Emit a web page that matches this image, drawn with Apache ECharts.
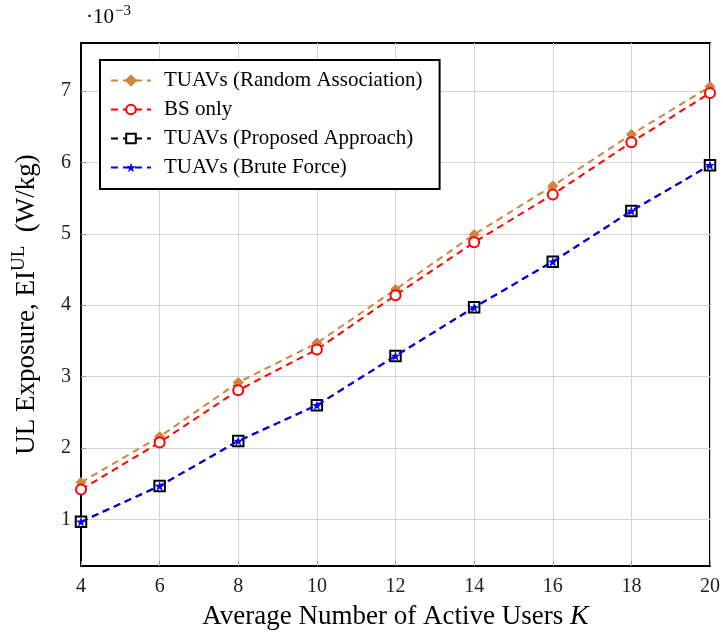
<!DOCTYPE html>
<html>
<head>
<meta charset="utf-8">
<script src="https://cdn.jsdelivr.net/npm/echarts@6/dist/echarts.min.js"></script>
<style>
  html, body { margin: 0; padding: 0; background: #fff; }
  #chart { width: 723px; height: 636px; }
</style>
</head>
<body>
<div id="chart"></div>
<script>
// Average number of active users K
const users = [4, 6, 8, 10, 12, 14, 16, 18, 20];
// UL exposure values, in units of 1e-3 W/kg
const randomAssoc = [1.52, 2.16, 2.92, 3.47, 4.22, 4.99, 5.67, 6.39, 7.06];
const bsOnly      = [1.42, 2.08, 2.81, 3.38, 4.14, 4.88, 5.55, 6.28, 6.97];
const proposed    = [0.97, 1.47, 2.10, 2.60, 3.29, 3.97, 4.61, 5.32, 5.96];
const bruteForce  = [0.97, 1.47, 2.10, 2.60, 3.29, 3.97, 4.61, 5.32, 5.96];
const yTicks = [1, 2, 3, 4, 5, 6, 7];

const serif = '"Liberation Serif", "DejaVu Serif", serif';
const pair = ys => users.map((x, i) => [x, ys[i]]);
const starPath = 'path://M50,0 L61.8,34.5 L97.6,34.5 L68.8,55.9 L79.4,90.5 L50,69 L20.6,90.5 L31.2,55.9 L2.4,34.5 L38.2,34.5 Z';

const chart = echarts.init(document.getElementById('chart'), null, { renderer: 'canvas' });

chart.setOption({
  animation: false,
  backgroundColor: '#fff',
  grid: {
    left: 81, right: 12, top: 43, bottom: 67,
    show: true, borderColor: '#000', borderWidth: 2
  },
  xAxis: {
    type: 'value', min: 4, max: 20, interval: 2,
    name: '{n|Average Number of Active Users }{k|K}',
    nameLocation: 'middle', nameGap: 37,
    nameTextStyle: {
      rich: {
        n: { fontFamily: serif, fontSize: 27, color: '#000' },
        k: { fontFamily: serif, fontSize: 28, fontStyle: 'italic', color: '#000' }
      }
    },
    axisLine: { lineStyle: { color: '#000', width: 2 } },
    axisTick: { show: true, inside: true, length: 5, lineStyle: { color: '#999' } },
    axisLabel: { fontFamily: serif, fontSize: 20, color: '#222', margin: 11 },
    splitLine: { show: true, lineStyle: { color: '#d4d4d4', width: 1 } }
  },
  yAxis: {
    type: 'value', min: 0.35, max: 7.67,
    name: '{n|UL Exposure, EI}{s|UL}{n|  (W/kg)}',
    nameLocation: 'middle', nameGap: 38, nameRotate: 90,
    nameTextStyle: {
      rich: {
        n: { fontFamily: serif, fontSize: 27, color: '#000' },
        s: { fontFamily: serif, fontSize: 19, color: '#000', verticalAlign: 'bottom', padding: [0, 0, 14, 0] }
      }
    },
    axisLine: { lineStyle: { color: '#000', width: 2 } },
    axisTick: { show: true, inside: true, length: 5, customValues: yTicks, lineStyle: { color: '#999' } },
    axisLabel: { fontFamily: serif, fontSize: 20, color: '#222', margin: 10, customValues: yTicks },
    splitLine: { show: true, lineStyle: { color: '#d4d4d4', width: 1 } }
  },
  legend: {
    orient: 'vertical',
    left: 100, top: 60,
    backgroundColor: '#fff',
    borderColor: '#000', borderWidth: 2,
    padding: [10, 17, 11, 10],
    itemGap: 8, itemWidth: 40, itemHeight: 12,
    textStyle: { fontFamily: serif, fontSize: 21, color: '#000', padding: [0, 0, 0, 8] },
    data: [
      'TUAVs (Random Association)',
      'BS only',
      'TUAVs (Proposed Approach)',
      'TUAVs (Brute Force)'
    ]
  },
  graphic: [{
    type: 'text', left: 86, top: 4,
    style: {
      text: '{n|·10}{s|−3}',
      rich: {
        n: { fontFamily: serif, fontSize: 21, fill: '#000' },
        s: { fontFamily: serif, fontSize: 15, fill: '#000', verticalAlign: 'top', padding: [0, 0, 12, 1] }
      }
    }
  }],
  series: [
    {
      name: 'TUAVs (Random Association)', type: 'line', data: pair(randomAssoc),
      symbol: 'diamond', symbolSize: 10, showAllSymbol: true,
      lineStyle: { color: '#cd853f', width: 2, type: [7, 5] },
      itemStyle: { color: '#cd853f', borderColor: '#cd853f', borderWidth: 1 },
      z: 2
    },
    {
      name: 'BS only', type: 'line', data: pair(bsOnly),
      symbol: 'emptyCircle', symbolSize: 10,
      lineStyle: { color: '#ff0000', width: 2, type: [7, 5] },
      itemStyle: { color: '#ff0000', borderColor: '#ff0000', borderWidth: 2.5 },
      z: 3
    },
    {
      name: 'TUAVs (Proposed Approach)', type: 'line', data: pair(proposed),
      symbol: 'emptyRect', symbolSize: 10.5,
      lineStyle: { color: '#000', width: 2, type: [7, 5] },
      itemStyle: { color: '#000', borderColor: '#000', borderWidth: 2.5 },
      z: 4
    },
    {
      name: 'TUAVs (Brute Force)', type: 'line', data: pair(bruteForce),
      symbol: starPath, symbolSize: 10,
      lineStyle: { color: '#0000ff', width: 2, type: [7, 5] },
      itemStyle: { color: '#0000ff' },
      z: 5
    }
  ]
});
</script>
</body>
</html>
